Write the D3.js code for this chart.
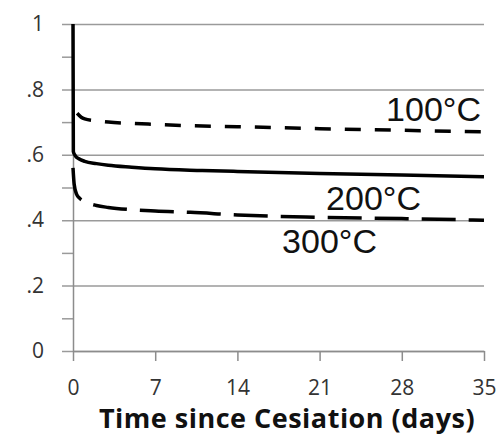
<!DOCTYPE html>
<html lang="en">
	<head>
		<meta charset="utf-8">
		<title>Cesiation decay</title>
		<script type="text/javascript" src="https://cdn.jsdelivr.net/npm/d3@7"></script>
		<style type="text/css">
			body{
				margin: 0;
				background: white;
			}
			.tickText{
				font-family: "Open Sans", Lato, sans-serif;
				font-size: 21px;
				fill: #333;
			}
			.xTitle{
				font-family: "Open Sans", Lato, sans-serif;
				font-size: 27px;
				font-weight: bold;
				letter-spacing: 0.5px;
				fill: #111;
			}
			.seriesLabel{
				font-family: "Liberation Sans", Arial, sans-serif;
				font-size: 34px;
				fill: #111;
			}
		</style>
	</head>
	<body>
		<div class="chart"></div>
		<script type="text/javascript">

			var w = 502;
			var h = 435;

			// plot box
			var plotL = 73, plotR = 484, plotT = 24, plotB = 351;

			var xTicks = [0, 7, 14, 21, 28, 35];
			var yTicks = [0, 0.2, 0.4, 0.6, 0.8, 1];
			var yMinor = [0.1, 0.3, 0.5, 0.7, 0.9];

			// 100°C (short dashes)
			var days100 = [0.35, 0.7, 1, 2, 3, 5, 7, 10, 14, 21, 28, 35];
			var vals100 = [0.727, 0.715, 0.71, 0.704, 0.70, 0.696, 0.693, 0.689, 0.686, 0.68, 0.675, 0.67];

			// 200°C (solid)
			var days200 = [0, 0.03, 0.2, 0.5, 1, 2, 3, 5, 7, 11, 14, 21, 28, 35];
			var vals200 = [1.0, 0.61, 0.597, 0.588, 0.58, 0.573, 0.568, 0.562, 0.557, 0.552, 0.549, 0.543, 0.538, 0.533];

			// 300°C (long dashes)
			var days300 = [0, 0.1, 0.3, 0.6, 1, 2, 3, 5, 7, 10, 14, 21, 28, 35];
			var vals300 = [0.56, 0.51, 0.48, 0.466, 0.457, 0.445, 0.439, 0.432, 0.428, 0.424, 0.416, 0.409, 0.405, 0.40];

			var labels = ["100°C", "200°C", "300°C"];

			var svg = d3.select("div.chart")
						.append("svg")
						.attr("width", w)
						.attr("height", h);

			var xScale = d3.scaleLinear()
							.domain([0, 35])
							.range([plotL, plotR]);

			var yScale = d3.scaleLinear()
							.domain([0, 1])
							.range([plotB, plotT]);

			// horizontal gridlines (start a bit left of the axis, like the major ticks)
			var grid = svg.append("g")
						.attr("transform", "translate(" + (plotL - 11) + ",0)")
						.call(d3.axisLeft(yScale)
							.tickValues(yTicks)
							.tickSize(-(plotR - plotL + 11))
							.tickFormat(""));
			grid.select(".domain").remove();
			grid.selectAll("line")
				.attr("stroke", "#9a9a9a")
				.attr("stroke-width", 1.5);

			// minor ticks
			var minor = svg.append("g")
						.attr("transform", "translate(" + plotL + ",0)")
						.call(d3.axisLeft(yScale)
							.tickValues(yMinor)
							.tickSize(11)
							.tickFormat(""));
			minor.select(".domain").remove();
			minor.selectAll("line")
				.attr("stroke", "#9a9a9a")
				.attr("stroke-width", 1.5);

			// y axis labels + line
			var yAxis = svg.append("g")
						.attr("transform", "translate(" + plotL + ",0)")
						.call(d3.axisLeft(yScale)
							.tickValues(yTicks)
							.tickSizeInner(0)
							.tickSizeOuter(0)
							.tickPadding(29)
							.tickFormat(function(d){
								if (d === 0) return "0";
								if (d === 1) return "1";
								return d3.format(".1f")(d).replace("0.", ".");
							}));
			yAxis.select(".domain")
				.attr("stroke", "#8c8c8c")
				.attr("stroke-width", 1.5);
			yAxis.selectAll("text")
				.attr("class", "tickText");
			yAxis.attr("font-size", null).attr("font-family", null);

			// x axis
			var xAxis = svg.append("g")
						.attr("transform", "translate(0," + plotB + ")")
						.call(d3.axisBottom(xScale)
							.tickValues(xTicks)
							.tickSizeInner(10)
							.tickSizeOuter(0)
							.tickPadding(19));
			xAxis.select(".domain")
				.attr("stroke", "#8c8c8c")
				.attr("stroke-width", 1.5);
			xAxis.selectAll("line")
				.attr("stroke", "#8c8c8c")
				.attr("stroke-width", 1.5);
			xAxis.selectAll("text")
				.attr("class", "tickText");
			xAxis.attr("font-size", null).attr("font-family", null);

			svg.append("text")
				.attr("class", "xTitle")
				.attr("x", 287)
				.attr("y", 428)
				.attr("text-anchor", "middle")
				.text("Time since Cesiation (days)");

			var line = d3.line()
						.x(function(d){ return xScale(d[0]); })
						.y(function(d){ return yScale(d[1]); })
						.curve(d3.curveMonotoneX);

			var series = [
				{ pts: d3.zip(days100, vals100), dash: "16,14" },
				{ pts: d3.zip(days200, vals200), dash: null },
				{ pts: d3.zip(days300, vals300), dash: "34,13" }
			];

			svg.selectAll("path.series")
				.data(series)
				.enter()
				.append("path")
				.attr("class", "series")
				.attr("d", function(d){ return line(d.pts); })
				.attr("fill", "none")
				.attr("stroke", "#000")
				.attr("stroke-width", 3.5)
				.attr("stroke-dasharray", function(d){ return d.dash; });

			// curve labels
			var labelPos = [[481, 121], [421, 210], [377, 253]];
			svg.selectAll("text.seriesLabel")
				.data(labels)
				.enter()
				.append("text")
				.attr("class", "seriesLabel")
				.attr("x", function(d, i){ return labelPos[i][0]; })
				.attr("y", function(d, i){ return labelPos[i][1]; })
				.attr("text-anchor", "end")
				.text(function(d){ return d; });

		</script>
	</body>
</html>
